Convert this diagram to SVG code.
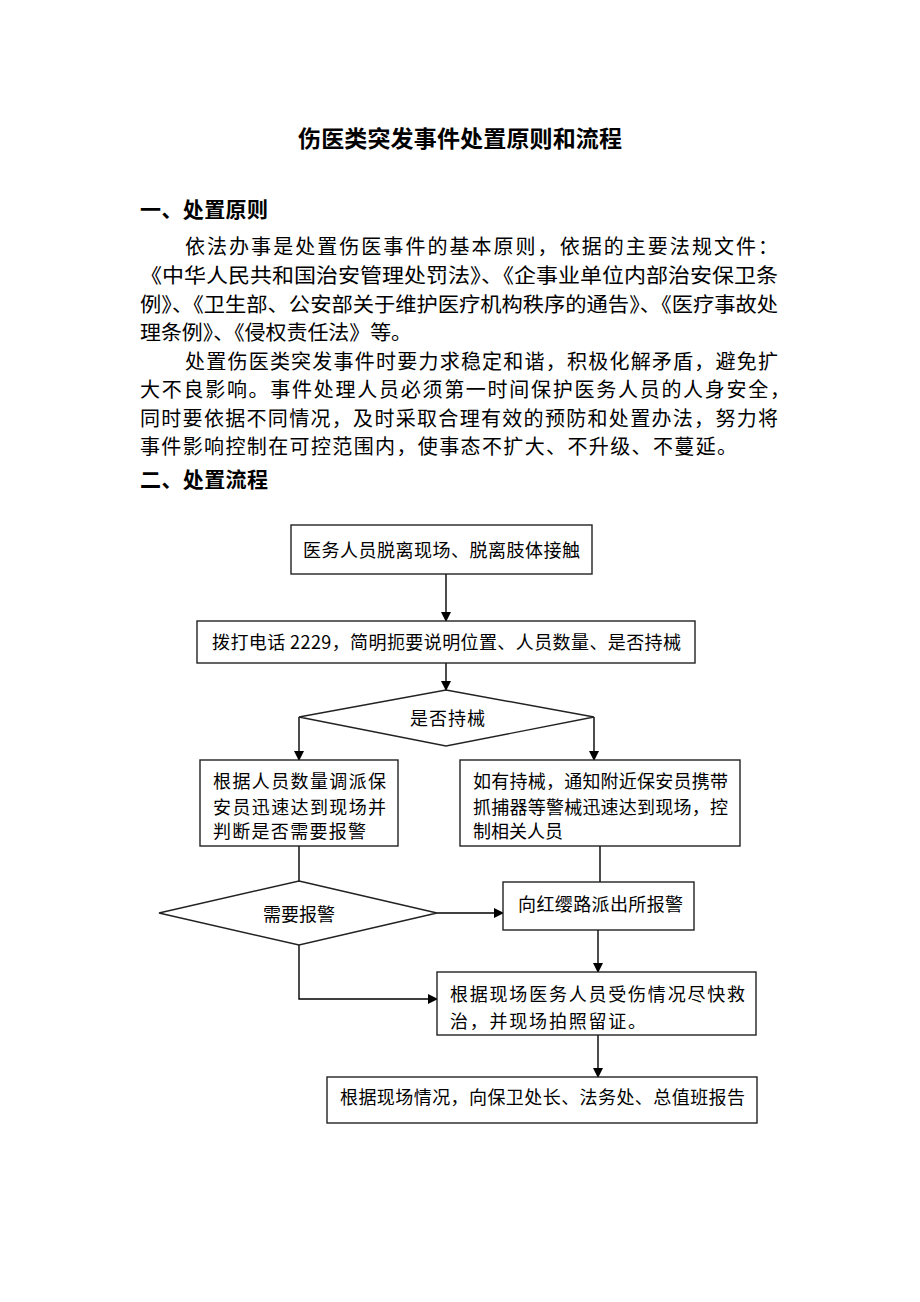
<svg xmlns="http://www.w3.org/2000/svg" width="920" height="1302" viewBox="0 0 920 1302">
<style>
.t{font-family:"Noto Sans CJK SC","Liberation Sans",sans-serif;fill:#000;dominant-baseline:central}
.title{font-size:23px;font-weight:700}
.h{font-size:21px;font-weight:700}
.p{font-size:20px}
.n{font-size:18px}
.box{fill:#fff;stroke:#222;stroke-width:1.4}
.ln{fill:none;stroke:#000;stroke-width:1.4}
</style>
<defs>
<marker id="ah" markerWidth="10" markerHeight="10" refX="9" refY="5" orient="auto" markerUnits="userSpaceOnUse">
<path d="M0,0 L10,5 L0,10 Z" fill="#000"/>
</marker>
</defs>
<rect width="920" height="1302" fill="#fff"/>
<text class="t title" x="460" y="137" text-anchor="middle" textLength="324" lengthAdjust="spacing">伤医类突发事件处置原则和流程</text>
<text class="t h" x="140" y="208" textLength="128" lengthAdjust="spacing">一、处置原则</text>
<g id="para">
<text class="t p" x="185" y="245" textLength="593" lengthAdjust="spacing">依法办事是处置伤医事件的基本原则，依据的主要法规文件：</text>
<text class="t p" x="140" y="274" textLength="638" lengthAdjust="spacingAndGlyphs">《中华人民共和国治安管理处罚法》、《企事业单位内部治安保卫条</text>
<text class="t p" x="140" y="303" textLength="638" lengthAdjust="spacingAndGlyphs">例》、《卫生部、公安部关于维护医疗机构秩序的通告》、《医疗事故处</text>
<text class="t p" x="140" y="331" textLength="272" lengthAdjust="spacingAndGlyphs">理条例》、《侵权责任法》等。</text>
<text class="t p" x="185" y="360" textLength="593" lengthAdjust="spacing">处置伤医类突发事件时要力求稳定和谐，积极化解矛盾，避免扩</text>
<text class="t p" x="140" y="388" textLength="650" lengthAdjust="spacing">大不良影响。事件处理人员必须第一时间保护医务人员的人身安全，</text>
<text class="t p" x="140" y="417" textLength="638" lengthAdjust="spacing">同时要依据不同情况，及时采取合理有效的预防和处置办法，努力将</text>
<text class="t p" x="140" y="445" textLength="597" lengthAdjust="spacing">事件影响控制在可控范围内，使事态不扩大、不升级、不蔓延。</text>
</g>
<text class="t h" x="140" y="478" textLength="128" lengthAdjust="spacing">二、处置流程</text>
<g id="connectors">
<line class="ln" x1="446" y1="574" x2="446" y2="621" marker-end="url(#ah)"/>
<line class="ln" x1="446" y1="663" x2="446" y2="690" marker-end="url(#ah)"/>
<line class="ln" x1="299" y1="717" x2="299" y2="760" marker-end="url(#ah)"/>
<line class="ln" x1="594" y1="717" x2="594" y2="760" marker-end="url(#ah)"/>
<line class="ln" x1="299" y1="846" x2="299" y2="881"/>
<line class="ln" x1="600" y1="846" x2="600" y2="882"/>
<line class="ln" x1="437" y1="913" x2="503" y2="913" marker-end="url(#ah)"/>
<line class="ln" x1="598" y1="930" x2="598" y2="972" marker-end="url(#ah)"/>
<polyline class="ln" points="299,945 299,999 437,999" marker-end="url(#ah)"/>
<line class="ln" x1="598" y1="1035" x2="598" y2="1077" marker-end="url(#ah)"/>
</g>
<g id="n1"><rect class="box" x="291" y="525" width="301" height="49"/>
<text class="t n" x="303" y="549" textLength="277" lengthAdjust="spacing">医务人员脱离现场、脱离肢体接触</text></g>
<g id="n2"><rect class="box" x="197" y="621" width="498" height="42"/>
<text class="t n" x="212" y="641" textLength="469" lengthAdjust="spacing">拨打电话 2229，简明扼要说明位置、人员数量、是否持械</text></g>
<g id="d1"><polygon class="box" points="446,690 594,717 446,746 299,717"/>
<text class="t n" x="410" y="717" textLength="75" lengthAdjust="spacing">是否持械</text></g>
<g id="n3"><rect class="box" x="200" y="760" width="198" height="86"/>
<text class="t n" x="213" y="780" textLength="173" lengthAdjust="spacing">根据人员数量调派保</text>
<text class="t n" x="213" y="806" textLength="173" lengthAdjust="spacing">安员迅速达到现场并</text>
<text class="t n" x="213" y="830" textLength="153" lengthAdjust="spacing">判断是否需要报警</text></g>
<g id="n4"><rect class="box" x="460" y="760" width="280" height="86"/>
<text class="t n" x="473" y="780" textLength="255" lengthAdjust="spacing">如有持械，通知附近保安员携带</text>
<text class="t n" x="473" y="806" textLength="255" lengthAdjust="spacing">抓捕器等警械迅速达到现场，控</text>
<text class="t n" x="473" y="830">制相关人员</text></g>
<g id="d2"><polygon class="box" points="299,881 437,913 299,945 159,913"/>
<text class="t n" x="263" y="913" textLength="72" lengthAdjust="spacing">需要报警</text></g>
<g id="n5"><rect class="box" x="503" y="882" width="191" height="48"/>
<text class="t n" x="518" y="903" textLength="165" lengthAdjust="spacing">向红缨路派出所报警</text></g>
<g id="n6"><rect class="box" x="437" y="972" width="319" height="63"/>
<text class="t n" x="450" y="993" textLength="295" lengthAdjust="spacing">根据现场医务人员受伤情况尽快救</text>
<text class="t n" x="450" y="1020" textLength="196" lengthAdjust="spacing">治，并现场拍照留证。</text></g>
<g id="n7"><rect class="box" x="327" y="1077" width="430" height="46"/>
<text class="t n" x="340" y="1096" textLength="405" lengthAdjust="spacing">根据现场情况，向保卫处长、法务处、总值班报告</text></g>
</svg>
